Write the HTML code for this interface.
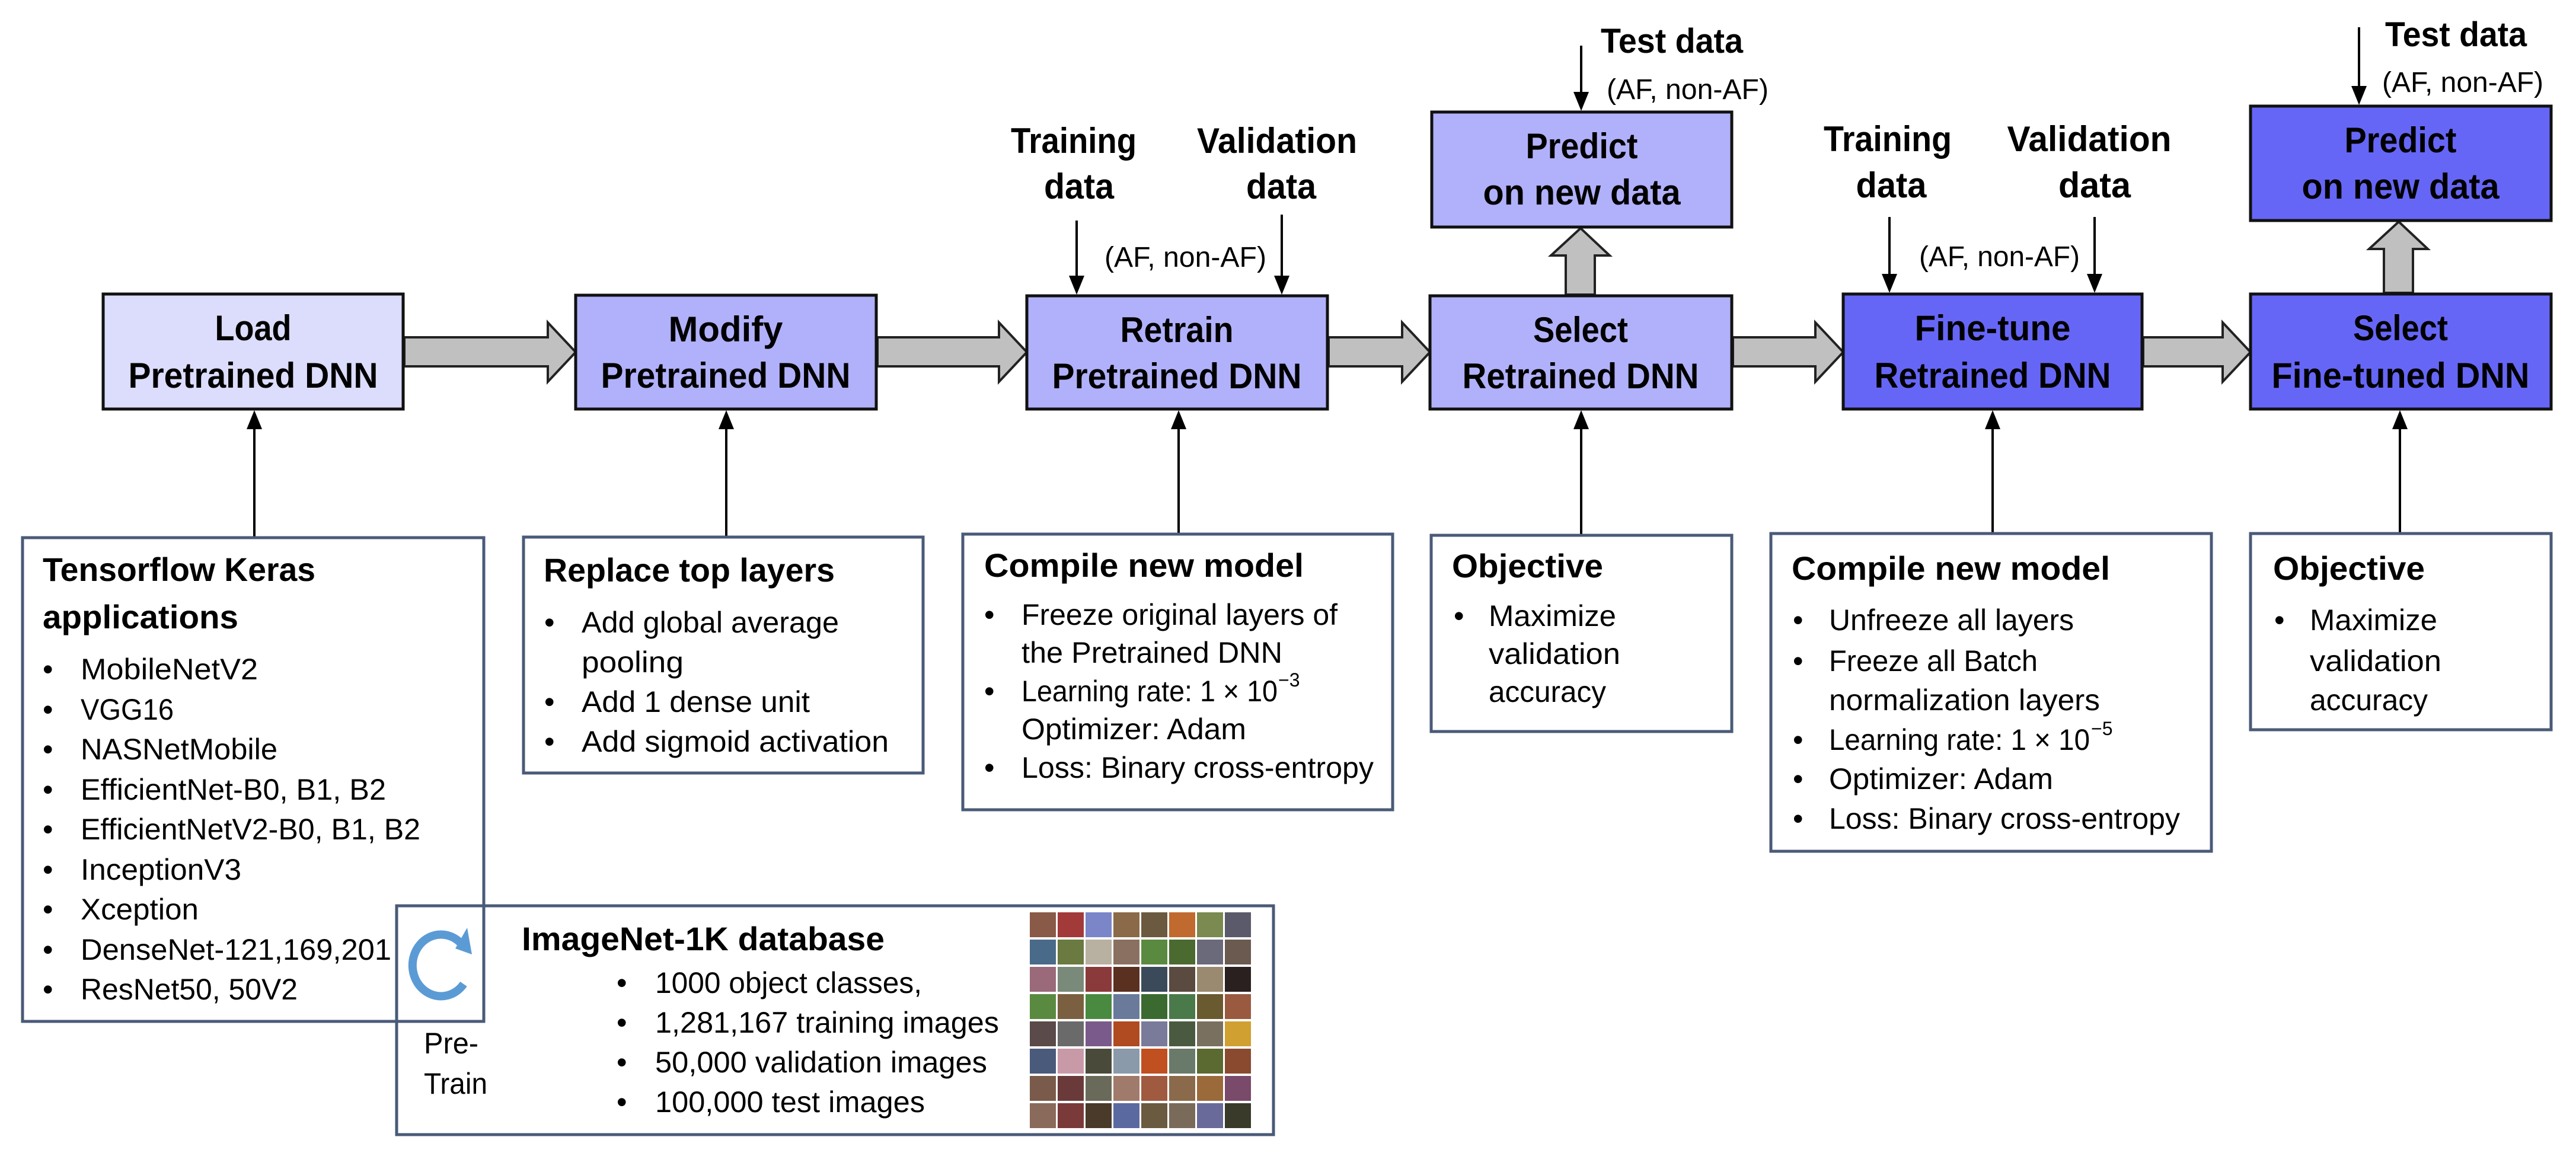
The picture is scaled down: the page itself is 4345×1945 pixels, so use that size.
<!DOCTYPE html>
<html><head><meta charset="utf-8"><style>html,body{margin:0;padding:0;background:#fff}svg{display:block}</style></head>
<body>
<svg xmlns="http://www.w3.org/2000/svg" width="4345" height="1945" viewBox="0 0 4345 1945" font-family="Liberation Sans, sans-serif">
<rect width="4345" height="1945" fill="#fff"/>
<defs>
<marker id="ah" markerWidth="10" markerHeight="10" refX="9" refY="5" orient="auto" markerUnits="userSpaceOnUse" viewBox="0 0 10 10"><path d="M0,0 L10,5 L0,10 z" fill="#000"/></marker>
</defs>
<g stroke="#000" stroke-width="4">
<line x1="429" y1="907" x2="429" y2="722"/>
<line x1="1225" y1="906" x2="1225" y2="722"/>
<line x1="1988" y1="901" x2="1988" y2="722"/>
<line x1="2667" y1="903" x2="2667" y2="722"/>
<line x1="3361" y1="900" x2="3361" y2="722"/>
<line x1="4048" y1="900" x2="4048" y2="722"/>
<line x1="1816" y1="372" x2="1816" y2="468"/>
<line x1="2162" y1="362" x2="2162" y2="468"/>
<line x1="3187" y1="366" x2="3187" y2="465"/>
<line x1="3533" y1="366" x2="3533" y2="465"/>
<line x1="2667" y1="77" x2="2667" y2="158"/>
<line x1="3979" y1="46" x2="3979" y2="148"/>
</g>
<g fill="#000">
<path d="M429,692 l-13,32 h26z"/><path d="M1225,692 l-13,32 h26z"/><path d="M1988,692 l-13,32 h26z"/>
<path d="M2667,692 l-13,32 h26z"/><path d="M3361,692 l-13,32 h26z"/><path d="M4048,692 l-13,32 h26z"/>
<path d="M1816,497 l-13,-32 h26z"/><path d="M2162,497 l-13,-32 h26z"/>
<path d="M3187,494 l-13,-32 h26z"/><path d="M3533,494 l-13,-32 h26z"/>
<path d="M2667,187 l-13,-32 h26z"/><path d="M3979,177 l-13,-32 h26z"/>
</g>
<g fill="#c0c0c0" stroke="#222" stroke-width="4" stroke-linejoin="miter">
<path d="M682,569 H924 V544 L971,594 L924,644 V618 H682 Z"/>
<path d="M1480,569 H1685 V544 L1732,594 L1685,644 V618 H1480 Z"/>
<path d="M2241,569 H2365 V544 L2412,594 L2365,644 V618 H2241 Z"/>
<path d="M2923,569 H3062 V544 L3109,594 L3062,644 V618 H2923 Z"/>
<path d="M3615,569 H3749 V544 L3796,594 L3749,644 V618 H3615 Z"/>
<path d="M2641,497 V431 H2616 L2666,385 L2715,431 H2690 V497 Z"/>
<path d="M4021,494 V420 H3996 L4046,374 L4095,420 H4070 V494 Z"/>
</g>
<g stroke="#111" stroke-width="5">
<rect x="174" y="496" width="506" height="194" fill="#dcdcfc"/>
<rect x="971" y="498" width="507" height="192" fill="#b1b1fb"/>
<rect x="1732" y="499" width="507" height="191" fill="#b1b1fb"/>
<rect x="2412" y="499" width="509" height="191" fill="#b1b1fb"/>
<rect x="2415" y="189" width="506" height="194" fill="#b1b1fb"/>
<rect x="3109" y="496" width="504" height="194" fill="#6666f6"/>
<rect x="3796" y="496" width="507" height="194" fill="#6666f6"/>
<rect x="3796" y="179" width="507" height="193" fill="#6666f6"/>
</g>
<g font-weight="bold" font-size="60" text-anchor="middle" lengthAdjust="spacingAndGlyphs">
<text x="427" y="574" textLength="129" lengthAdjust="spacingAndGlyphs">Load</text>
<text x="427" y="654" textLength="421" lengthAdjust="spacingAndGlyphs">Pretrained DNN</text>
<text x="1224" y="576" textLength="193" lengthAdjust="spacingAndGlyphs">Modify</text>
<text x="1224" y="654" textLength="421" lengthAdjust="spacingAndGlyphs">Pretrained DNN</text>
<text x="1985" y="577" textLength="191" lengthAdjust="spacingAndGlyphs">Retrain</text>
<text x="1985" y="655" textLength="421" lengthAdjust="spacingAndGlyphs">Pretrained DNN</text>
<text x="2666" y="577" textLength="160" lengthAdjust="spacingAndGlyphs">Select</text>
<text x="2666" y="655" textLength="399" lengthAdjust="spacingAndGlyphs">Retrained DNN</text>
<text x="2668" y="267" textLength="189" lengthAdjust="spacingAndGlyphs">Predict</text>
<text x="2668" y="345" textLength="333" lengthAdjust="spacingAndGlyphs">on new data</text>
<text x="3361" y="574" textLength="263" lengthAdjust="spacingAndGlyphs">Fine-tune</text>
<text x="3361" y="654" textLength="399" lengthAdjust="spacingAndGlyphs">Retrained DNN</text>
<text x="4049" y="574" textLength="160" lengthAdjust="spacingAndGlyphs">Select</text>
<text x="4049" y="654" textLength="435" lengthAdjust="spacingAndGlyphs">Fine-tuned DNN</text>
<text x="4049" y="257" textLength="189" lengthAdjust="spacingAndGlyphs">Predict</text>
<text x="4049" y="335" textLength="333" lengthAdjust="spacingAndGlyphs">on new data</text>
<text x="1811" y="258" textLength="212" lengthAdjust="spacingAndGlyphs">Training</text>
<text x="1820" y="335" textLength="118" lengthAdjust="spacingAndGlyphs">data</text>
<text x="2154" y="258" textLength="270" lengthAdjust="spacingAndGlyphs">Validation</text>
<text x="2161" y="335" textLength="118" lengthAdjust="spacingAndGlyphs">data</text>
<text x="3184" y="255" textLength="216" lengthAdjust="spacingAndGlyphs">Training</text>
<text x="3190" y="333" textLength="119" lengthAdjust="spacingAndGlyphs">data</text>
<text x="3524" y="255" textLength="277" lengthAdjust="spacingAndGlyphs">Validation</text>
<text x="3533" y="333" textLength="122" lengthAdjust="spacingAndGlyphs">data</text>
</g>
<g font-weight="bold" font-size="58">
<text x="2700" y="89" textLength="240" lengthAdjust="spacingAndGlyphs">Test data</text>
<text x="4023" y="78" textLength="239" lengthAdjust="spacingAndGlyphs">Test data</text>
</g>
<g font-size="48">
<text x="2710" y="167" textLength="273" lengthAdjust="spacingAndGlyphs">(AF, non-AF)</text>
<text x="4018" y="155" textLength="272" lengthAdjust="spacingAndGlyphs">(AF, non-AF)</text>
<text x="1863" y="450" textLength="273" lengthAdjust="spacingAndGlyphs">(AF, non-AF)</text>
<text x="3237" y="449" textLength="271" lengthAdjust="spacingAndGlyphs">(AF, non-AF)</text>
</g>
<g fill="none" stroke="#4a5a78" stroke-width="5">
<rect x="669" y="1528" width="1479" height="386" fill="#fff"/>
<rect x="38" y="907" width="778" height="816"/>
<rect x="883" y="906" width="674" height="398"/>
<rect x="1624" y="901" width="725" height="465"/>
<rect x="2414" y="903" width="507" height="331"/>
<rect x="2987" y="900" width="743" height="536"/>
<rect x="3796" y="900" width="507" height="331"/>
</g>
<g font-weight="bold" font-size="56">
<text x="72" y="980" textLength="460" lengthAdjust="spacingAndGlyphs">Tensorflow Keras</text>
<text x="72" y="1060" textLength="330" lengthAdjust="spacingAndGlyphs">applications</text>
<text x="917" y="981" textLength="491" lengthAdjust="spacingAndGlyphs">Replace top layers</text>
<text x="1660" y="973" textLength="539" lengthAdjust="spacingAndGlyphs">Compile new model</text>
<text x="2449" y="974" textLength="255" lengthAdjust="spacingAndGlyphs">Objective</text>
<text x="3022" y="978" textLength="537" lengthAdjust="spacingAndGlyphs">Compile new model</text>
<text x="3834" y="978" textLength="256" lengthAdjust="spacingAndGlyphs">Objective</text>
<text x="880" y="1603" textLength="612" lengthAdjust="spacingAndGlyphs">ImageNet-1K database</text>
</g>
<g font-size="50">
<g>
<text x="72" y="1146">•</text><text x="136" y="1146" textLength="299" lengthAdjust="spacingAndGlyphs">MobileNetV2</text>
<text x="72" y="1214">•</text><text x="136" y="1214" textLength="157" lengthAdjust="spacingAndGlyphs">VGG16</text>
<text x="72" y="1281">•</text><text x="136" y="1281" textLength="332" lengthAdjust="spacingAndGlyphs">NASNetMobile</text>
<text x="72" y="1349">•</text><text x="136" y="1349" textLength="515" lengthAdjust="spacingAndGlyphs">EfficientNet-B0, B1, B2</text>
<text x="72" y="1416">•</text><text x="136" y="1416" textLength="573" lengthAdjust="spacingAndGlyphs">EfficientNetV2-B0, B1, B2</text>
<text x="72" y="1484">•</text><text x="136" y="1484" textLength="271" lengthAdjust="spacingAndGlyphs">InceptionV3</text>
<text x="72" y="1551">•</text><text x="136" y="1551" textLength="199" lengthAdjust="spacingAndGlyphs">Xception</text>
<text x="72" y="1619">•</text><text x="136" y="1619" textLength="524" lengthAdjust="spacingAndGlyphs">DenseNet-121,169,201</text>
<text x="72" y="1686">•</text><text x="136" y="1686" textLength="366" lengthAdjust="spacingAndGlyphs">ResNet50, 50V2</text>
</g>
<g>
<text x="918" y="1067">•</text><text x="981" y="1067" textLength="434" lengthAdjust="spacingAndGlyphs">Add global average</text>
<text x="981" y="1134" textLength="172" lengthAdjust="spacingAndGlyphs">pooling</text>
<text x="918" y="1201">•</text><text x="981" y="1201" textLength="385" lengthAdjust="spacingAndGlyphs">Add 1 dense unit</text>
<text x="918" y="1268">•</text><text x="981" y="1268" textLength="518" lengthAdjust="spacingAndGlyphs">Add sigmoid activation</text>
</g>
<g>
<text x="1660" y="1054">•</text><text x="1723" y="1054" textLength="533" lengthAdjust="spacingAndGlyphs">Freeze original layers of</text>
<text x="1723" y="1118" textLength="440" lengthAdjust="spacingAndGlyphs">the Pretrained DNN</text>
<text x="1660" y="1183">•</text><text x="1723" y="1183" textLength="432" lengthAdjust="spacingAndGlyphs">Learning rate: 1 × 10</text>
<text x="2156" y="1158" font-size="32">−3</text>
<text x="1723" y="1247" textLength="379" lengthAdjust="spacingAndGlyphs">Optimizer: Adam</text>
<text x="1660" y="1312">•</text><text x="1723" y="1312" textLength="594" lengthAdjust="spacingAndGlyphs">Loss: Binary cross-entropy</text>
</g>
<g>
<text x="2452" y="1056">•</text><text x="2511" y="1056" textLength="215" lengthAdjust="spacingAndGlyphs">Maximize</text>
<text x="2511" y="1120" textLength="222" lengthAdjust="spacingAndGlyphs">validation</text>
<text x="2511" y="1184" textLength="198" lengthAdjust="spacingAndGlyphs">accuracy</text>
</g>
<g>
<text x="3024" y="1063">•</text><text x="3085" y="1063" textLength="413" lengthAdjust="spacingAndGlyphs">Unfreeze all layers</text>
<text x="3024" y="1132">•</text><text x="3085" y="1132" textLength="352" lengthAdjust="spacingAndGlyphs">Freeze all Batch</text>
<text x="3085" y="1198" textLength="457" lengthAdjust="spacingAndGlyphs">normalization layers</text>
<text x="3024" y="1265">•</text><text x="3085" y="1265" textLength="440" lengthAdjust="spacingAndGlyphs">Learning rate: 1 × 10</text>
<text x="3527" y="1240" font-size="32">−5</text>
<text x="3024" y="1331">•</text><text x="3085" y="1331" textLength="378" lengthAdjust="spacingAndGlyphs">Optimizer: Adam</text>
<text x="3024" y="1398">•</text><text x="3085" y="1398" textLength="592" lengthAdjust="spacingAndGlyphs">Loss: Binary cross-entropy</text>
</g>
<g>
<text x="3836" y="1063">•</text><text x="3896" y="1063" textLength="215" lengthAdjust="spacingAndGlyphs">Maximize</text>
<text x="3896" y="1132" textLength="222" lengthAdjust="spacingAndGlyphs">validation</text>
<text x="3896" y="1198" textLength="199" lengthAdjust="spacingAndGlyphs">accuracy</text>
</g>
<g>
<text x="1040" y="1675">•</text><text x="1105" y="1675" textLength="450" lengthAdjust="spacingAndGlyphs">1000 object classes,</text>
<text x="1040" y="1742">•</text><text x="1105" y="1742" textLength="580" lengthAdjust="spacingAndGlyphs">1,281,167 training images</text>
<text x="1040" y="1809">•</text><text x="1105" y="1809" textLength="560" lengthAdjust="spacingAndGlyphs">50,000 validation images</text>
<text x="1040" y="1876">•</text><text x="1105" y="1876" textLength="455" lengthAdjust="spacingAndGlyphs">100,000 test images</text>
</g>
<text x="715" y="1777" textLength="92" lengthAdjust="spacingAndGlyphs">Pre-</text>
<text x="715" y="1845" textLength="107" lengthAdjust="spacingAndGlyphs">Train</text>
</g>
<path d="M778,1592 A48,52 0 1 0 782,1660" fill="none" stroke="#5b9bd5" stroke-width="14"/>
<path d="M768,1600 L788,1565 L796,1610 Z" fill="#5b9bd5"/>
<g id="mosaic">
<rect x="1737" y="1539" width="44" height="42" fill="#8a5a48"/><rect x="1784" y="1539" width="44" height="42" fill="#a33a3a"/><rect x="1831" y="1539" width="44" height="42" fill="#7a86c8"/><rect x="1878" y="1539" width="44" height="42" fill="#8a6a48"/><rect x="1925" y="1539" width="44" height="42" fill="#6b5a40"/><rect x="1972" y="1539" width="44" height="42" fill="#c06a30"/><rect x="2019" y="1539" width="44" height="42" fill="#7a8a50"/><rect x="2066" y="1539" width="44" height="42" fill="#5a5a6a"/>
<rect x="1737" y="1585" width="44" height="42" fill="#4a6a8a"/><rect x="1784" y="1585" width="44" height="42" fill="#6a7a40"/><rect x="1831" y="1585" width="44" height="42" fill="#b8b0a0"/><rect x="1878" y="1585" width="44" height="42" fill="#8a7060"/><rect x="1925" y="1585" width="44" height="42" fill="#5a8a40"/><rect x="1972" y="1585" width="44" height="42" fill="#4a6a30"/><rect x="2019" y="1585" width="44" height="42" fill="#6a6a7a"/><rect x="2066" y="1585" width="44" height="42" fill="#6a5a50"/>
<rect x="1737" y="1631" width="44" height="42" fill="#9a6a7a"/><rect x="1784" y="1631" width="44" height="42" fill="#7a8a7a"/><rect x="1831" y="1631" width="44" height="42" fill="#8a3a3a"/><rect x="1878" y="1631" width="44" height="42" fill="#5a3020"/><rect x="1925" y="1631" width="44" height="42" fill="#3a4a5a"/><rect x="1972" y="1631" width="44" height="42" fill="#5a4a40"/><rect x="2019" y="1631" width="44" height="42" fill="#9a8a70"/><rect x="2066" y="1631" width="44" height="42" fill="#2a2020"/>
<rect x="1737" y="1677" width="44" height="42" fill="#5a8a40"/><rect x="1784" y="1677" width="44" height="42" fill="#7a6040"/><rect x="1831" y="1677" width="44" height="42" fill="#4a8a40"/><rect x="1878" y="1677" width="44" height="42" fill="#6a7a9a"/><rect x="1925" y="1677" width="44" height="42" fill="#3a6a30"/><rect x="1972" y="1677" width="44" height="42" fill="#4a7a4a"/><rect x="2019" y="1677" width="44" height="42" fill="#6a5a30"/><rect x="2066" y="1677" width="44" height="42" fill="#9a5a40"/>
<rect x="1737" y="1723" width="44" height="42" fill="#5a4a4a"/><rect x="1784" y="1723" width="44" height="42" fill="#6a6a6a"/><rect x="1831" y="1723" width="44" height="42" fill="#7a5a8a"/><rect x="1878" y="1723" width="44" height="42" fill="#b04a20"/><rect x="1925" y="1723" width="44" height="42" fill="#7a7a9a"/><rect x="1972" y="1723" width="44" height="42" fill="#4a5a40"/><rect x="2019" y="1723" width="44" height="42" fill="#7a7060"/><rect x="2066" y="1723" width="44" height="42" fill="#d0a030"/>
<rect x="1737" y="1769" width="44" height="42" fill="#4a5a7a"/><rect x="1784" y="1769" width="44" height="42" fill="#c89aa8"/><rect x="1831" y="1769" width="44" height="42" fill="#4a4a3a"/><rect x="1878" y="1769" width="44" height="42" fill="#8a9aaa"/><rect x="1925" y="1769" width="44" height="42" fill="#c05020"/><rect x="1972" y="1769" width="44" height="42" fill="#6a7a6a"/><rect x="2019" y="1769" width="44" height="42" fill="#5a6a30"/><rect x="2066" y="1769" width="44" height="42" fill="#8a4a30"/>
<rect x="1737" y="1815" width="44" height="42" fill="#7a5a4a"/><rect x="1784" y="1815" width="44" height="42" fill="#6a3a3a"/><rect x="1831" y="1815" width="44" height="42" fill="#6a6a5a"/><rect x="1878" y="1815" width="44" height="42" fill="#a07a6a"/><rect x="1925" y="1815" width="44" height="42" fill="#a05a40"/><rect x="1972" y="1815" width="44" height="42" fill="#8a6a4a"/><rect x="2019" y="1815" width="44" height="42" fill="#9a6a3a"/><rect x="2066" y="1815" width="44" height="42" fill="#7a4a6a"/>
<rect x="1737" y="1861" width="44" height="42" fill="#8a6a5a"/><rect x="1784" y="1861" width="44" height="42" fill="#7a3a3a"/><rect x="1831" y="1861" width="44" height="42" fill="#4a3a2a"/><rect x="1878" y="1861" width="44" height="42" fill="#5a6aa0"/><rect x="1925" y="1861" width="44" height="42" fill="#6a5a40"/><rect x="1972" y="1861" width="44" height="42" fill="#7a6a5a"/><rect x="2019" y="1861" width="44" height="42" fill="#6a6a9a"/><rect x="2066" y="1861" width="44" height="42" fill="#3a3a2a"/>
</g>
</svg>
</body></html>
